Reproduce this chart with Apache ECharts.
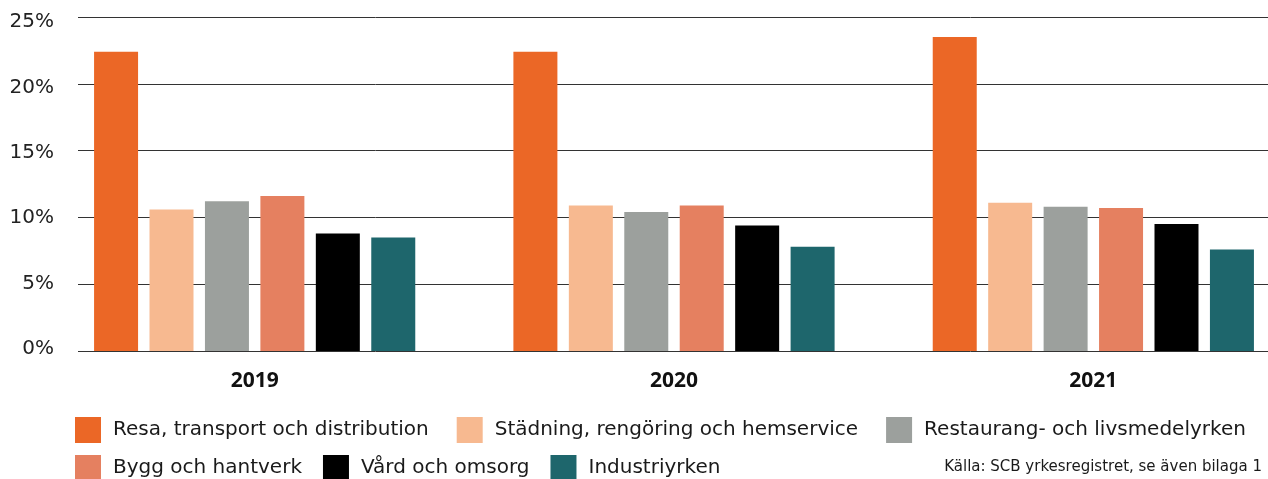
<!DOCTYPE html>
<html>
<head>
<meta charset="utf-8">
<script src="https://cdn.jsdelivr.net/npm/echarts@6/dist/echarts.min.js"></script>
<style>
  html, body { margin: 0; padding: 0; background: #fff; }
  #chart { width: 1268px; height: 479px; }
</style>
</head>
<body>
<div id="chart"></div>
<script>
const years = ['2019', '2020', '2021'];
const yTicks = [0, 5, 10, 15, 20, 25];

const resa = [22.4, 22.4, 23.5];
const stadning = [10.6, 10.9, 11.1];
const restaurang = [11.2, 10.4, 10.8];
const bygg = [11.6, 10.9, 10.7];
const vard = [8.8, 9.4, 9.5];
const industri = [8.5, 7.8, 7.6];

const seriesNames = [
  'Resa, transport och distribution',
  'Städning, rengöring och hemservice',
  'Restaurang- och livsmedelyrken',
  'Bygg och hantverk',
  'Vård och omsorg',
  'Industriyrken',
];
const seriesValues = [resa, stadning, restaurang, bygg, vard, industri];
const colors = ['#eb6726', '#f7b990', '#9ca09d', '#e58060', '#000000', '#1e666c'];

const font = '"DejaVu Sans", "Open Sans", sans-serif';
const boldFont = '"Open Sans", Lato, sans-serif';
const chart = echarts.init(document.getElementById('chart'));

const legendCommon = {
  icon: 'rect',
  itemWidth: 26,
  itemHeight: 26,
  padding: 0,
  selectedMode: false,
  textStyle: { color: '#1a1a1a', fontSize: 20, fontFamily: font, padding: [0, 0, 0, 7] },
};

const yRange = { min: yTicks[0], max: yTicks[yTicks.length - 1], interval: 5 };

chart.setOption({
  animation: false,
  color: colors,
  grid: [
    { left: 78, right: 0, top: 17, bottom: 128 },
    // the bar groups sit on a wider band than the gridlines
    { left: 45, width: 1258, top: 17, bottom: 128, outerBoundsMode: 'none' },
    // tick labels are spaced a little tighter than the gridlines
    { left: 78, right: 0, top: 22, bottom: 130 },
  ],
  xAxis: [
    { gridIndex: 0, type: 'category', data: years, show: false },
    {
      gridIndex: 1,
      type: 'category',
      data: years,
      axisLine: { show: false },
      axisTick: { show: false },
      axisLabel: { color: '#111', fontSize: 21, fontWeight: 'bold', fontFamily: boldFont, margin: 20 },
    },
    { gridIndex: 2, type: 'category', data: years, show: false },
  ],
  yAxis: [
    {
      gridIndex: 0,
      type: 'value',
      ...yRange,
      axisLine: { show: false },
      axisTick: { show: false },
      axisLabel: { show: false },
      splitLine: { lineStyle: { color: '#333', width: 1 } },
    },
    { gridIndex: 1, type: 'value', ...yRange, show: false, splitLine: { show: false } },
    {
      gridIndex: 2,
      type: 'value',
      ...yRange,
      axisLine: { show: false },
      axisTick: { show: false },
      splitLine: { show: false },
      axisLabel: { color: '#222', fontSize: 20, fontFamily: font, margin: 24, formatter: '{value}%' },
    },
  ],
  legend: [
    { ...legendCommon, left: 75, top: 417, itemGap: 28, data: seriesNames.slice(0, 3) },
    { ...legendCommon, left: 75, top: 455, itemGap: 21, data: seriesNames.slice(3) },
  ],
  graphic: [
    {
      type: 'text',
      right: 6,
      top: 460,
      style: { text: 'Källa: SCB yrkesregistret, se även bilaga 1', fill: '#1a1a1a', fontSize: 15, fontFamily: font },
    },
  ],
  series: seriesNames.map((name, i) => ({
    name,
    type: 'bar',
    xAxisIndex: 1,
    yAxisIndex: 1,
    data: seriesValues[i],
    barWidth: 44,
    barGap: '26%',
  })),
});
</script>
</body>
</html>
